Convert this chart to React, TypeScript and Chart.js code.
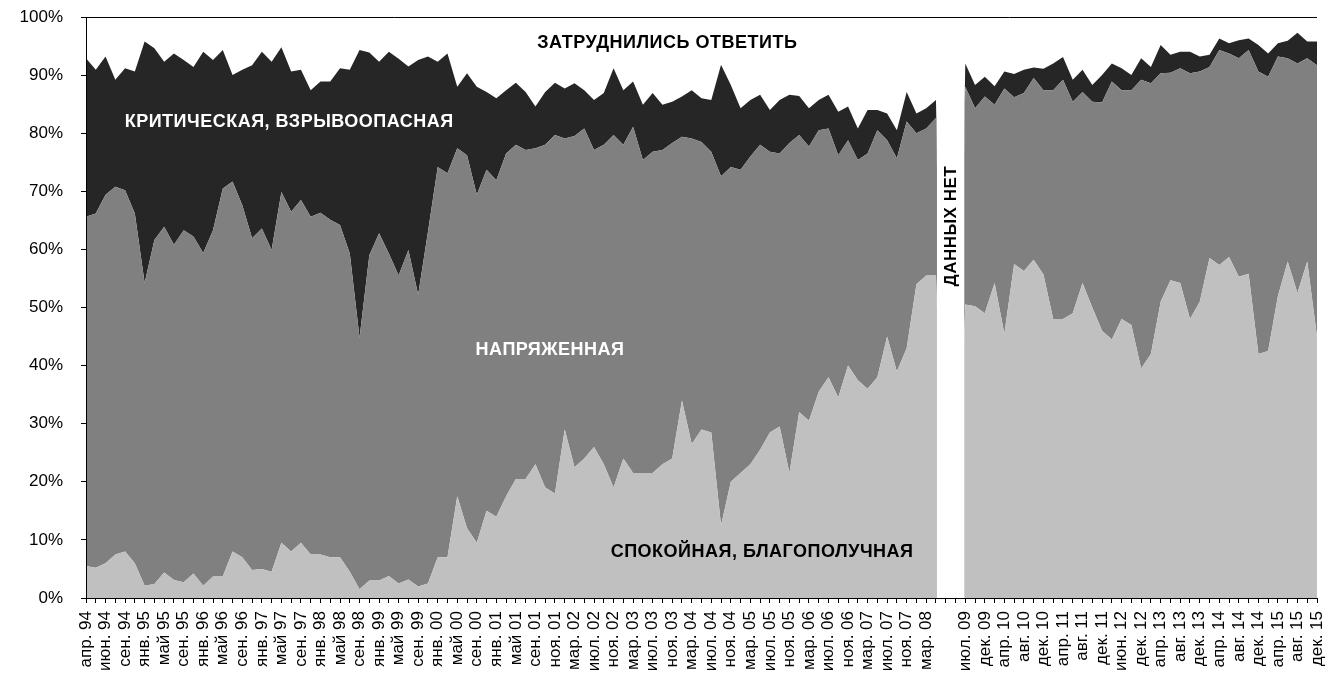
import React, { useEffect, useRef } from "react";
import { Chart, registerables } from "chart.js";

Chart.register(...registerables);

// Labels shown under every second category (the gap slot has no label)
const tickLabels = [
  "апр. 94", "июн. 94", "сен. 94", "янв. 95", "май 95", "сен. 95", "янв. 96", "май 96",
  "сен. 96", "янв. 97", "май 97", "сен. 97", "янв. 98", "май 98", "сен. 98", "янв. 99",
  "май 99", "сен. 99", "янв. 00", "май 00", "сен. 00", "янв. 01", "май 01", "сен. 01",
  "ноя. 01", "мар. 02", "июл. 02", "ноя. 02", "мар. 03", "июл. 03", "ноя. 03", "мар. 04",
  "июл. 04", "ноя. 04", "мар. 05", "июл. 05", "ноя. 05", "мар. 06", "июл. 06", "ноя. 06",
  "мар. 07", "июл. 07", "ноя. 07", "мар. 08", "", "июл. 09", "дек. 09", "апр. 10",
  "авг. 10", "дек. 10", "апр. 11", "авг. 11", "дек. 11", "июн. 12", "дек. 12", "апр. 13",
  "авг. 13", "дек. 13", "апр. 14", "авг. 14", "дек. 14", "апр. 15", "авг. 15", "дек. 15",
];

// Спокойная, благополучная
const calm = [
  5.5, 5.2, 6.0, 7.5, 8.0, 6.0, 2.1, 2.4, 4.4, 3.1,
  2.7, 4.2, 2.1, 3.7, 3.7, 8.0, 7.0, 4.8, 5.0, 4.5,
  9.5, 8.0, 9.5, 7.5, 7.5, 7.0, 7.0, 4.5, 1.5, 3.0,
  3.0, 3.8, 2.5, 3.2, 2.0, 2.5, 7.0, 7.0, 17.5, 12.0,
  9.5, 15.0, 14.0, 17.5, 20.5, 20.5, 23.0, 19.0, 18.0, 29.0,
  22.5, 24.0, 26.0, 23.0, 19.0, 24.0, 21.5, 21.5, 21.5, 23.0,
  24.0, 34.0, 26.5, 29.0, 28.5, 12.5, 20.0, 21.5, 23.0, 25.5,
  28.5, 29.5, 21.5, 32.0, 30.5, 35.5, 38.0, 34.5, 40.0, 37.5,
  36.0, 38.0, 45.0, 39.0, 43.0, 54.0, 55.5, 55.5, 0, 0,
  50.5, 50.2, 49.0, 54.2, 45.5, 57.5, 56.3, 58.2, 55.7, 48.0,
  48.0, 49.0, 54.2, 50.0, 46.0, 44.5, 48.0, 47.0, 39.5, 42.0,
  51.0, 54.7, 54.2, 48.0, 51.0, 58.5, 57.3, 58.7, 55.3, 55.8,
  42.0, 42.5, 52.0, 57.9, 52.5, 57.9, 45.0,
];

// Напряженная
const tense = [
  60.1, 61.0, 63.4, 63.3, 62.2, 60.2, 52.1, 59.2, 59.5, 57.7,
  60.6, 58.0, 57.3, 59.6, 66.8, 63.7, 60.6, 57.1, 58.6, 55.4,
  60.4, 58.5, 59.0, 58.1, 58.8, 58.1, 57.2, 54.8, 43.3, 56.0,
  59.8, 55.5, 53.0, 56.7, 50.2, 60.5, 67.2, 66.1, 59.9, 64.2,
  59.9, 58.7, 57.9, 59.0, 57.5, 56.6, 54.4, 59.0, 61.7, 50.1,
  57.0, 56.8, 51.1, 55.0, 60.7, 54.0, 59.6, 53.9, 55.3, 54.1,
  54.3, 45.4, 52.6, 49.5, 48.3, 60.1, 54.2, 52.2, 53.0, 52.5,
  48.3, 47.0, 56.8, 47.7, 47.2, 45.0, 42.8, 41.7, 38.8, 37.9,
  40.5, 42.5, 33.8, 36.7, 39.0, 26.0, 25.3, 27.1, 0, 0,
  37.5, 34.1, 37.3, 30.7, 42.2, 28.7, 30.6, 31.3, 31.7, 39.4,
  41.2, 36.4, 32.9, 35.4, 39.3, 44.4, 39.4, 40.4, 49.7, 46.6,
  39.3, 35.7, 37.0, 42.3, 39.6, 32.9, 37.0, 35.0, 37.6, 38.5,
  48.6, 47.2, 41.2, 35.0, 39.5, 35.0, 46.7,
];

// Критическая, взрывоопасная
const critical = [
  27.3, 24.7, 23.8, 18.4, 21.0, 24.4, 41.6, 33.0, 28.4, 32.9,
  29.3, 29.2, 34.6, 29.3, 23.8, 18.3, 23.3, 29.8, 30.4, 32.4,
  24.9, 24.1, 22.4, 21.8, 22.6, 23.8, 27.0, 31.6, 49.5, 34.9,
  29.5, 34.7, 37.3, 31.6, 40.4, 30.2, 18.1, 20.6, 10.6, 14.1,
  18.6, 13.4, 14.1, 10.9, 10.7, 10.0, 7.2, 9.1, 9.0, 8.6,
  9.1, 6.6, 8.6, 8.9, 11.5, 9.4, 7.8, 9.5, 10.1, 7.8,
  7.1, 6.9, 8.3, 7.5, 8.9, 19.2, 14.1, 10.6, 9.7, 8.6,
  7.2, 9.2, 8.3, 6.7, 6.6, 5.2, 5.8, 7.5, 5.8, 5.4,
  7.5, 3.5, 4.6, 4.8, 5.1, 3.4, 3.5, 3.1, 0, 0,
  4.0, 4.0, 3.4, 3.2, 2.9, 4.0, 4.0, 1.8, 3.7, 4.6,
  3.9, 3.8, 3.8, 2.9, 4.7, 3.1, 3.8, 2.6, 3.7, 2.8,
  4.9, 3.1, 2.8, 3.7, 2.6, 2.1, 2.0, 1.8, 3.1, 2.0,
  4.6, 4.0, 2.3, 3.0, 5.3, 2.9, 4.1,
];

// Затруднились ответить
const undecided = [
  7.1, 9.1, 6.8, 10.8, 8.8, 9.4, 4.2, 5.4, 7.7, 6.3,
  7.4, 8.6, 6.0, 7.4, 5.7, 10.0, 9.1, 8.3, 6.0, 7.7,
  5.2, 9.4, 9.1, 12.6, 11.1, 11.1, 8.8, 9.1, 5.7, 6.1,
  7.7, 6.0, 7.2, 8.5, 7.4, 6.8, 7.7, 6.3, 12.0, 9.7,
  12.0, 12.9, 14.0, 12.6, 11.3, 12.9, 15.4, 12.9, 11.3, 12.3,
  11.4, 12.6, 14.3, 13.1, 8.8, 12.6, 11.1, 15.1, 13.1, 15.1,
  14.6, 13.7, 12.6, 14.0, 14.3, 8.2, 11.7, 15.7, 14.3, 13.4,
  16.0, 14.3, 13.4, 13.6, 15.7, 14.3, 13.4, 16.3, 15.4, 19.2,
  16.0, 16.0, 16.6, 19.5, 12.9, 16.6, 15.7, 14.3, 0, 0,
  8.0, 11.7, 10.3, 11.9, 9.4, 9.8, 9.1, 8.7, 8.9, 8.0,
  6.9, 10.8, 9.1, 11.7, 10.0, 8.0, 8.8, 10.0, 7.1, 8.6,
  4.8, 6.5, 6.0, 6.0, 6.8, 6.5, 3.7, 4.5, 4.0, 3.7,
  4.8, 6.3, 4.5, 4.1, 2.7, 4.2, 4.2,
];

const yTicks = [0, 10, 20, 30, 40, 50, 60, 70, 80, 90, 100];

// The "no data" break: from the last point before it to the first point after it
const noDataFrom = 87;
const noDataTo = 90;

// In-chart captions, anchored in data coordinates (category index, percent)
const captions = [
  { text: "ЗАТРУДНИЛИСЬ ОТВЕТИТЬ", at: 59.5, value: 95.5, color: "#000000", rotate: 0 },
  { text: "КРИТИЧЕСКАЯ, ВЗРЫВООПАСНАЯ", at: 20.8, value: 81.9, color: "#ffffff", rotate: 0 },
  { text: "НАПРЯЖЕННАЯ", at: 47.5, value: 42.7, color: "#ffffff", rotate: 0 },
  { text: "СПОКОЙНАЯ, БЛАГОПОЛУЧНАЯ", at: 69.2, value: 7.9, color: "#000000", rotate: 0 },
  { text: "ДАННЫХ НЕТ", at: 88.6, value: 64.0, color: "#000000", rotate: -Math.PI / 2 },
];

const FONT = "'Liberation Sans', Arial, sans-serif";

const categories = Array.from({ length: tickLabels.length * 2 - 1 }, (_, i) =>
  i % 2 === 0 ? tickLabels[i / 2] : ""
);

const overlayPlugin = {
  id: "overlay",
  afterDatasetsDraw(chart: any) {
    const { ctx, chartArea, scales } = chart;
    const x = scales.x;
    const y = scales.y;
    ctx.save();
    const x0 = x.getPixelForValue(noDataFrom) + 1;
    const x1 = x.getPixelForValue(noDataTo) - 1;
    ctx.fillStyle = "#ffffff";
    ctx.fillRect(x0, chartArea.top, x1 - x0, chartArea.bottom - chartArea.top);
    for (const c of captions) {
      const px = x.getPixelForValue(c.at);
      const py = y.getPixelForValue(c.value);
      ctx.save();
      ctx.translate(px, py);
      ctx.rotate(c.rotate);
      ctx.font = `bold ${c.rotate ? 17 : 18}px ${FONT}`;
      try {
        (ctx as any).letterSpacing = "0.5px";
      } catch (e) {
        /* ignore */
      }
      ctx.fillStyle = c.color;
      ctx.textAlign = "center";
      ctx.textBaseline = "middle";
      ctx.fillText(c.text, 0, 0);
      ctx.restore();
    }
    ctx.restore();
  },
};

export default function App() {
  const canvasRef = useRef<HTMLCanvasElement | null>(null);

  useEffect(() => {
    const canvas = canvasRef.current;
    if (!canvas) return;
    const common = {
      pointRadius: 0,
      borderWidth: 0,
      borderColor: "rgba(0,0,0,0)",
      tension: 0,
    };
    const chart = new Chart(canvas, {
      type: "line",
      data: {
        labels: categories,
        datasets: [
          { label: "Спокойная, благополучная", data: calm, backgroundColor: "#c0c0c0", fill: "origin", ...common },
          { label: "Напряженная", data: tense, backgroundColor: "#808080", fill: "-1", ...common },
          { label: "Критическая, взрывоопасная", data: critical, backgroundColor: "#262626", fill: "-1", ...common },
          { label: "Затруднились ответить", data: undecided, backgroundColor: "#ffffff", fill: "-1", ...common },
        ],
      },
      options: {
        responsive: false,
        animation: false,
        layout: { padding: { top: 17, right: 25, left: 0, bottom: 0 } },
        plugins: { legend: { display: false }, tooltip: { enabled: false } },
        scales: {
          x: {
            offset: false,
            grid: {
              display: true,
              drawOnChartArea: false,
              tickLength: 5,
              tickColor: "#000000",
              offset: false,
              z: 1,
            },
            border: { display: true, color: "#000000", width: 1, z: 1 },
            ticks: {
              autoSkip: false,
              maxRotation: 90,
              minRotation: 90,
              padding: 8,
              color: "#000000",
              font: { family: FONT, size: 17 },
            },
            afterFit(scale: any) {
              scale.height = 97;
              scale.paddingLeft = 0;
              scale.paddingRight = 0;
              scale.paddingTop = 0;
              scale.paddingBottom = 0;
            },
          },
          y: {
            stacked: true,
            min: 0,
            max: 100,
            afterBuildTicks(scale: any) {
              scale.ticks = yTicks.map((v) => ({ value: v }));
            },
            grid: {
              display: true,
              drawOnChartArea: true,
              tickLength: 5,
              tickColor: "#000000",
              z: 1,
              color: (ctx: any) => (ctx.tick && ctx.tick.value === 100 ? "#000000" : "rgba(0,0,0,0)"),
            },
            border: { display: true, color: "#000000", width: 1, z: 1 },
            ticks: {
              padding: 18,
              color: "#000000",
              font: { family: FONT, size: 17 },
              callback: (v: any) => `${v}%`,
            },
            afterFit(scale: any) {
              scale.width = 86;
              scale.paddingLeft = 0;
              scale.paddingRight = 0;
              scale.paddingTop = 0;
              scale.paddingBottom = 0;
            },
          },
        },
      },
      plugins: [overlayPlugin],
    });
    return () => chart.destroy();
  }, []);

  return (
    <div style={{ position: "absolute", left: 0, top: 0, width: 1342, height: 695, background: "#fff" }}>
      <canvas ref={canvasRef} width={1342} height={695} />
    </div>
  );
}
